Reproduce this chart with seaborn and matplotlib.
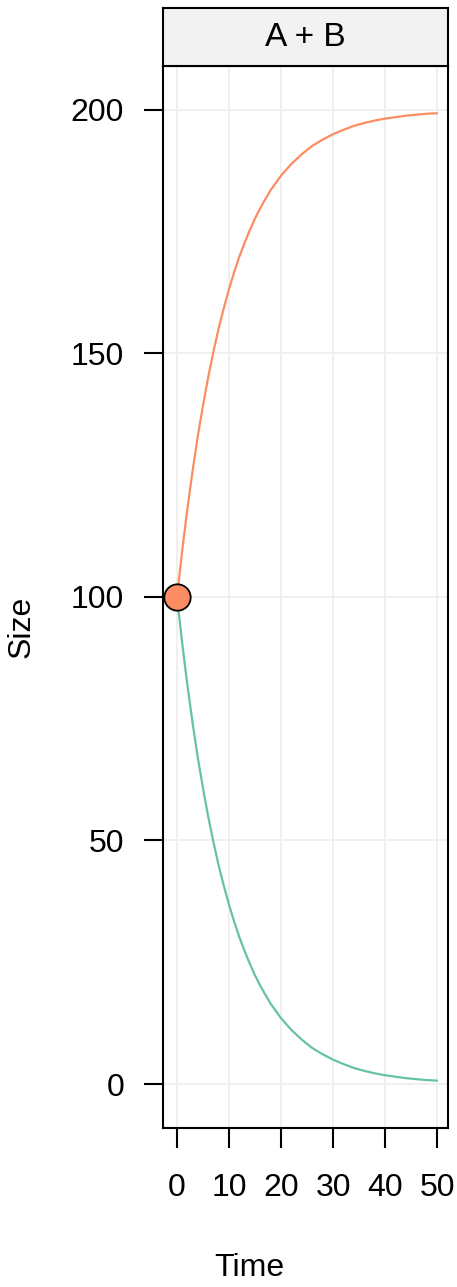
import pandas as pd
import matplotlib
matplotlib.use("Agg")
import matplotlib.pyplot as plt
import seaborn as sns

# data
time = [0, 1, 2, 3, 4, 5, 6, 7, 8, 9, 10, 11, 12, 13, 14, 15, 16, 17, 18, 19, 20,
        22, 24, 26, 28, 30, 32, 34, 36, 38, 40, 42, 44, 46, 48, 50]
size_a = [100.0, 109.5, 118.1, 125.9, 133.0, 139.3, 145.1, 150.3, 155.1, 159.3, 163.2,
          166.7, 169.9, 172.7, 175.3, 177.7, 179.8, 181.7, 183.5, 185.0, 186.5,
          188.9, 190.9, 192.6, 193.9, 195.0, 195.9, 196.7, 197.3, 197.8, 198.2,
          198.5, 198.8, 199.0, 199.2, 199.3]
size_b = [100.0, 90.5, 81.9, 74.1, 67.0, 60.7, 54.9, 49.7, 44.9, 40.7, 36.8,
          33.3, 30.1, 27.3, 24.7, 22.3, 20.2, 18.3, 16.5, 15.0, 13.5,
          11.1, 9.1, 7.4, 6.1, 5.0, 4.1, 3.3, 2.7, 2.2, 1.8,
          1.5, 1.2, 1.0, 0.8, 0.7]
start_time = [0]
start_size = [100]
panel_title = "A + B"
x_ticks = [0, 10, 20, 30, 40, 50]
y_ticks = [0, 50, 100, 150, 200]

df = pd.DataFrame({
    "Time": time * 2,
    "Size": size_a + size_b,
    "species": ["A"] * len(time) + ["B"] * len(time),
})
start = pd.DataFrame({"Time": start_time, "Size": start_size})

# colors
orange = "#FC8D62"
green = "#66C2A5"

sns.set_style("white")
plt.rcParams["font.family"] = ["Liberation Sans", "DejaVu Sans"]
plt.rcParams["text.color"] = "black"

W, H = 457, 1287
fig = plt.figure(figsize=(W / 100, H / 100), dpi=100)

# main panel
ax = fig.add_axes([163 / W, 1 - 1128 / H, 285 / W, (1128 - 66) / H])
for t in x_ticks:
    ax.axvline(t, color="#f0f0f0", linewidth=1.4, zorder=0)
for v in y_ticks:
    ax.axhline(v, color="#f0f0f0", linewidth=1.4, zorder=0)

sns.lineplot(data=df, x="Time", y="Size", hue="species",
             palette={"A": orange, "B": green}, linewidth=1.6,
             legend=False, ax=ax, zorder=2)
sns.scatterplot(data=start, x="Time", y="Size", color=orange, s=360,
                edgecolor="black", linewidth=1.3, ax=ax, zorder=3)

ax.set_xlim(-2.69, 52.1)
ax.set_ylim(-9.03, 209.0)
ax.set_xticks(x_ticks)
ax.set_yticks(y_ticks)
ax.set_xlabel("")
ax.set_ylabel("")
for s in ax.spines.values():
    s.set_color("black")
    s.set_linewidth(1.5)
ax.tick_params(axis="x", direction="out", length=14.4, width=1.5, pad=18,
               labelsize=23, colors="black", bottom=True)
ax.tick_params(axis="y", direction="out", length=14, width=1.5, pad=14,
               labelsize=23, colors="black", left=True)

# strip on top
strip = fig.add_axes([163 / W, 1 - 66 / H, 285 / W, 58 / H])
strip.set_facecolor("#f2f2f2")
strip.set_xticks([])
strip.set_yticks([])
for s in strip.spines.values():
    s.set_color("black")
    s.set_linewidth(1.5)
strip.text(0.5, 0.5, panel_title, ha="center", va="center", fontsize=24,
           color="black", transform=strip.transAxes)

# axis labels
fig.text(249 / W, 1 - 1268 / H, "Time", ha="center", va="center", fontsize=23,
         color="black")
fig.text(22 / W, 1 - 627 / H, "Size", ha="center", va="center", fontsize=23,
         color="black", rotation=90)

fig.savefig("out.png", dpi=100)
